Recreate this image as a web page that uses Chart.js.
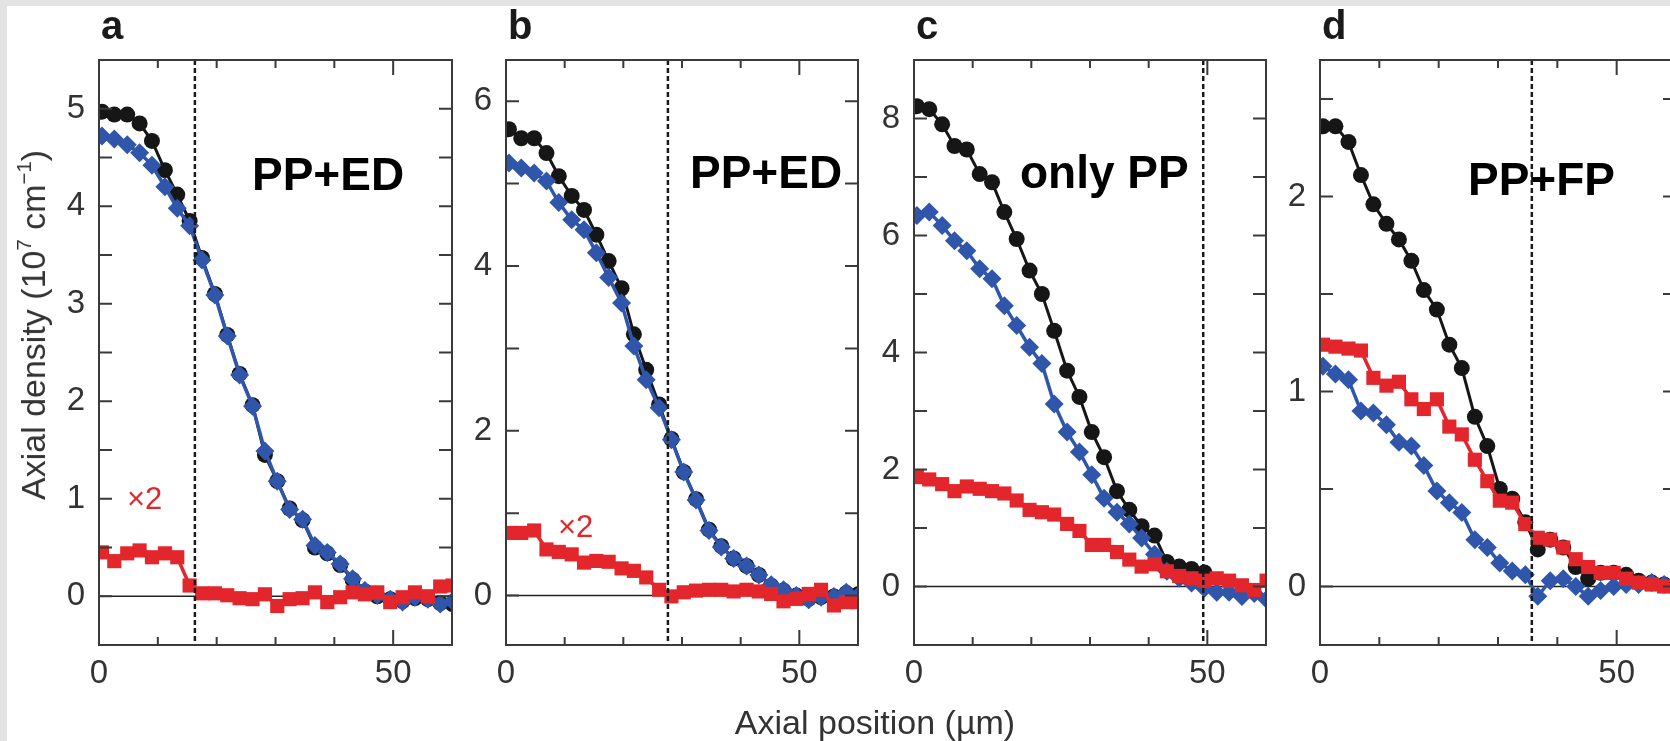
<!DOCTYPE html>
<html>
<head>
<meta charset="utf-8">
<script src="https://cdn.jsdelivr.net/npm/chart.js@4.4.1/dist/chart.umd.min.js"></script>
<style>
  html, body { margin: 0; padding: 0; width: 1670px; height: 741px; overflow: hidden; background: #e3e3e3; }
  #sheet { position: absolute; left: 7px; top: 6px; right: 0; bottom: 0; background: #fff; }
  canvas { position: absolute; top: 0; }
  .axis-title { position: absolute; font-family: "Liberation Sans", Arial, sans-serif; font-size: 34px; line-height: 34px; color: #333; white-space: nowrap; }
  .axis-title sup { font-size: 60%; vertical-align: 0.7em; line-height: 0; }
  #xtitle { left: 875px; top: 705px; transform: translateX(-50%); }
  #ytitle { left: 33px; top: 325px; transform: translate(-50%, -50%) rotate(-90deg); }
</style>
</head>
<body>
<div id="sheet"></div>
<canvas id="pa"></canvas>
<canvas id="pb"></canvas>
<canvas id="pc"></canvas>
<canvas id="pd"></canvas>
<div class="axis-title" id="xtitle">Axial position (µm)</div>
<div class="axis-title" id="ytitle">Axial density (10<sup>7</sup> cm<sup>&minus;1</sup>)</div>

<script>
// Axial positions of the samples (µm)
const positions = [0.5, 2.6, 4.8, 6.9, 9.0, 11.2, 13.3, 15.4, 17.5, 19.7, 21.8, 23.9, 26.1, 28.2, 30.3,
                   32.4, 34.6, 36.7, 38.8, 41.0, 43.1, 45.2, 47.3, 49.5, 51.6, 53.7, 55.9, 58.0, 60.1];

// Panel a - PP+ED
const blackA = [4.97, 4.94, 4.94, 4.85, 4.67, 4.37, 4.12, 3.85, 3.47, 3.10, 2.68, 2.28, 1.96, 1.45, 1.18,
                0.90, 0.78, 0.50, 0.44, 0.32, 0.17, 0.05, 0.00, -0.03, -0.05, -0.02, -0.03, -0.07, -0.08];
const blueA  = [4.72, 4.69, 4.63, 4.55, 4.42, 4.20, 3.98, 3.80, 3.45, 3.09, 2.67, 2.27, 1.95, 1.49, 1.18,
                0.89, 0.79, 0.52, 0.45, 0.33, 0.18, 0.06, 0.01, -0.03, -0.06, -0.01, -0.03, -0.08, -0.05];
const redA   = [0.45, 0.36, 0.44, 0.47, 0.40, 0.44, 0.40, 0.11, 0.03, 0.03, 0.01, -0.02, -0.03, 0.02, -0.10,
                -0.03, -0.02, 0.04, -0.06, -0.01, 0.04, 0.02, 0.04, -0.06, -0.01, 0.04, 0.00, 0.10, 0.11];

// Panel b - PP+ED
const blackB = [5.66, 5.55, 5.55, 5.37, 5.09, 4.85, 4.68, 4.38, 4.06, 3.73, 3.17, 2.74, 2.32, 1.90, 1.50,
                1.17, 0.80, 0.60, 0.45, 0.36, 0.25, 0.12, 0.06, 0.00, -0.04, -0.02, -0.01, 0.03, 0.02];
const blueB  = [5.25, 5.19, 5.13, 5.03, 4.77, 4.56, 4.44, 4.16, 3.86, 3.55, 3.03, 2.62, 2.28, 1.89, 1.50,
                1.16, 0.79, 0.59, 0.45, 0.36, 0.25, 0.13, 0.07, 0.00, -0.05, -0.02, -0.01, 0.04, 0.00];
const redB   = [0.76, 0.76, 0.79, 0.56, 0.53, 0.50, 0.40, 0.42, 0.41, 0.33, 0.30, 0.22, 0.07, -0.01, 0.04,
                0.06, 0.07, 0.07, 0.05, 0.07, 0.05, 0.02, -0.07, -0.04, 0.02, 0.07, -0.12, -0.08, -0.08];

// Panel c - only PP
const blackC = [8.21, 8.16, 7.90, 7.53, 7.47, 7.05, 6.91, 6.40, 5.94, 5.40, 5.00, 4.37, 3.69, 3.24, 2.64,
                2.21, 1.63, 1.31, 1.03, 0.87, 0.42, 0.34, 0.30, 0.24, null, null, null, null, null];
const blueC  = [6.34, 6.40, 6.17, 5.91, 5.74, 5.43, 5.26, 4.80, 4.46, 4.09, 3.81, 3.12, 2.64, 2.30, 1.91,
                1.51, 1.27, 1.07, 0.83, 0.55, 0.26, 0.14, 0.06, -0.03, -0.10, -0.10, -0.17, -0.12, -0.22];
const redC   = [1.87, 1.83, 1.75, 1.63, 1.71, 1.67, 1.63, 1.59, 1.47, 1.31, 1.27, 1.23, 1.07, 0.95, 0.71,
                0.71, 0.59, 0.46, 0.34, 0.38, 0.26, 0.18, 0.14, 0.10, 0.14, 0.10, 0.02, -0.06, 0.10];

// Panel d - PP+FP
const blackD = [2.36, 2.36, 2.28, 2.11, 1.96, 1.86, 1.78, 1.67, 1.52, 1.42, 1.24, 1.12, 0.87, 0.72, 0.50,
                0.45, 0.33, 0.19, 0.24, 0.20, 0.10, 0.04, 0.07, 0.07, 0.06, 0.03, 0.02, 0.01, 0.00];
const blueD  = [1.13, 1.09, 1.06, 0.90, 0.89, 0.83, 0.74, 0.72, 0.62, 0.49, 0.43, 0.38, 0.24, 0.20, 0.12,
                0.08, 0.06, -0.05, 0.03, 0.04, 0.00, -0.05, -0.02, 0.00, 0.01, 0.01, 0.02, 0.01, 0.00];
const redD   = [1.24, 1.23, 1.22, 1.21, 1.07, 1.03, 1.05, 0.96, 0.91, 0.96, 0.82, 0.78, 0.65, 0.54, 0.44,
                0.43, 0.32, 0.25, 0.24, 0.20, 0.14, 0.10, 0.07, 0.07, 0.04, 0.02, 0.01, 0.00, 0.00];

// Tick values and labels
const xTicks  = [0, 10, 20, 30, 40, 50, 60];
const xLabels = [0, 50];
const yTicksA = [0, 0.5, 1, 1.5, 2, 2.5, 3, 3.5, 4, 4.5, 5];
const yLabelsA = [0, 1, 2, 3, 4, 5];
const yTicksB = [0, 1, 2, 3, 4, 5, 6];
const yLabelsB = [0, 2, 4, 6];
const yTicksC = [0, 1, 2, 3, 4, 5, 6, 7, 8];
const yLabelsC = [0, 2, 4, 6, 8];
const yTicksD = [0, 0.5, 1, 1.5, 2, 2.5];
const yLabelsD = [0, 1, 2];

// Dashed marker positions (µm)
const dashA = 16.3, dashB = 27.6, dashC = 49.3, dashD = 35.7;

const FONT = '"Liberation Sans", Arial, Helvetica, sans-serif';
const Y_AXIS_W = 95, RIGHT_PAD = 20, PLOT_TOP = 60, PLOT_BOTTOM = 645, X_AXIS_H = 60, H = 741;
const RED = '#e3262c', BLUE = '#2f56ab', BLACK = '#161616';

const panels = [
  { id: 'pa', left: 99,   right: 452,  black: blackA, blue: blueA, red: redA, yMin: -0.5, yMax: 5.5,
    yTicks: yTicksA, yLabels: yLabelsA, dash: dashA, letter: 'a',
    notes: [{ text: 'PP+ED', dx: 153, y: 190, font: 'bold 46px ' + FONT, color: '#000' },
            { text: '\u00d72', dx: 28, y: 509, font: '31px ' + FONT, color: RED }] },
  { id: 'pb', left: 506,  right: 858,  black: blackB, blue: blueB, red: redB, yMin: -0.6, yMax: 6.5,
    yTicks: yTicksB, yLabels: yLabelsB, dash: dashB, letter: 'b',
    notes: [{ text: 'PP+ED', dx: 184, y: 188, font: 'bold 46px ' + FONT, color: '#000' },
            { text: '\u00d72', dx: 52, y: 537, font: '31px ' + FONT, color: RED }] },
  { id: 'pc', left: 914,  right: 1266, black: blackC, blue: blueC, red: redC, yMin: -1, yMax: 9,
    yTicks: yTicksC, yLabels: yLabelsC, dash: dashC, letter: 'c',
    notes: [{ text: 'only PP', dx: 106, y: 188, font: 'bold 46px ' + FONT, color: '#000' }] },
  { id: 'pd', left: 1320, right: 1676, black: blackD, blue: blueD, red: redD, yMin: -0.3, yMax: 2.7,
    yTicks: yTicksD, yLabels: yLabelsD, dash: dashD, letter: 'd',
    notes: [{ text: 'PP+FP', dx: 148, y: 195, font: 'bold 46px ' + FONT, color: '#000' }] }
];

// Frame, inward ticks, zero line, dashed marker and panel texts
const framePlugin = {
  id: 'frame',
  beforeDatasetsDraw(chart, args, o) {
    const { ctx, chartArea: a, scales: { y } } = chart;
    const y0 = y.getPixelForValue(0);
    ctx.save();
    ctx.strokeStyle = '#222';
    ctx.lineWidth = 1.5;
    ctx.beginPath();
    ctx.moveTo(a.left, y0);
    ctx.lineTo(a.right, y0);
    ctx.stroke();
    ctx.restore();
  },
  afterDatasetsDraw(chart, args, o) {
    const { ctx, chartArea: a, scales: { x, y } } = chart;
    ctx.save();
    ctx.textAlign = 'left';
    ctx.textBaseline = 'alphabetic';
    o.notes.forEach(n => {
      ctx.font = n.font;
      ctx.fillStyle = n.color;
      ctx.fillText(n.text, a.left + n.dx, n.y);
    });
    ctx.font = 'bold 40px ' + FONT;
    ctx.fillStyle = '#1a1a1a';
    ctx.fillText(o.letter, a.left + 2, 39);

    const xd = x.getPixelForValue(o.dash);
    ctx.strokeStyle = '#1a1a1a';
    ctx.lineWidth = 2.5;
    ctx.setLineDash([5, 3]);
    ctx.beginPath();
    ctx.moveTo(xd, a.top);
    ctx.lineTo(xd, a.bottom);
    ctx.stroke();
    ctx.setLineDash([]);

    ctx.strokeStyle = '#3a3a3a';
    ctx.lineWidth = 2;
    ctx.strokeRect(a.left, a.top, a.right - a.left, a.bottom - a.top);
    ctx.beginPath();
    y.ticks.forEach(t => {
      if (t.value <= y.min || t.value >= y.max) return;
      const py = y.getPixelForValue(t.value);
      ctx.moveTo(a.left, py); ctx.lineTo(a.left + 13, py);
      ctx.moveTo(a.right, py); ctx.lineTo(a.right - 13, py);
    });
    x.ticks.forEach(t => {
      if (t.value <= x.min || t.value >= x.max) return;
      const px = x.getPixelForValue(t.value);
      const len = t.label !== '' ? 15 : 8;
      ctx.moveTo(px, a.bottom); ctx.lineTo(px, a.bottom - len);
      ctx.moveTo(px, a.top); ctx.lineTo(px, a.top + len);
    });
    ctx.stroke();
    ctx.restore();
  }
};

function series(vals) {
  return positions.map((p, i) => ({ x: p, y: vals[i] }));
}

function createPanel(p) {
  const canvas = document.getElementById(p.id);
  canvas.width = (p.right - p.left) + Y_AXIS_W + RIGHT_PAD;
  canvas.height = H;
  canvas.style.left = (p.left - Y_AXIS_W) + 'px';

  new Chart(canvas.getContext('2d'), {
    type: 'line',
    data: {
      datasets: [
        { data: series(p.red), order: 0, borderColor: RED, backgroundColor: RED,
          borderWidth: 3.5, pointStyle: 'rect', pointRadius: 10, pointBorderWidth: 0 },
        { data: series(p.blue), order: 1, borderColor: BLUE, backgroundColor: BLUE,
          borderWidth: 3.5, pointStyle: 'rectRot', pointRadius: 9.5, pointBorderWidth: 0 },
        { data: series(p.black), order: 2, borderColor: BLACK, backgroundColor: BLACK,
          borderWidth: 3, pointStyle: 'circle', pointRadius: 8, pointBorderWidth: 0 }
      ]
    },
    options: {
      responsive: false,
      animation: false,
      events: [],
      layout: { padding: { top: PLOT_TOP, bottom: H - PLOT_BOTTOM - X_AXIS_H, left: 0, right: RIGHT_PAD } },
      elements: { line: { tension: 0 } },
      plugins: {
        legend: { display: false },
        tooltip: { enabled: false },
        frame: { dash: p.dash, letter: p.letter, notes: p.notes }
      },
      scales: {
        x: {
          type: 'linear', min: 0, max: 60,
          grid: { display: false, drawTicks: false },
          border: { display: false },
          afterBuildTicks: s => { s.ticks = xTicks.map(v => ({ value: v })); },
          afterFit: s => { s.height = X_AXIS_H; },
          ticks: {
            autoSkip: false, maxRotation: 0, padding: 9, color: '#333',
            font: { family: FONT, size: 33 },
            callback: v => xLabels.includes(v) ? String(v) : ''
          }
        },
        y: {
          type: 'linear', min: p.yMin, max: p.yMax,
          grid: { display: false, drawTicks: false },
          border: { display: false },
          afterBuildTicks: s => { s.ticks = p.yTicks.map(v => ({ value: v })); },
          afterFit: s => { s.width = Y_AXIS_W; },
          ticks: {
            autoSkip: false, padding: 14, color: '#333',
            font: { family: FONT, size: 33 },
            callback: v => p.yLabels.includes(v) ? String(v) : ''
          }
        }
      }
    },
    plugins: [framePlugin]
  });
}

panels.forEach(createPanel);
</script>
</body>
</html>
